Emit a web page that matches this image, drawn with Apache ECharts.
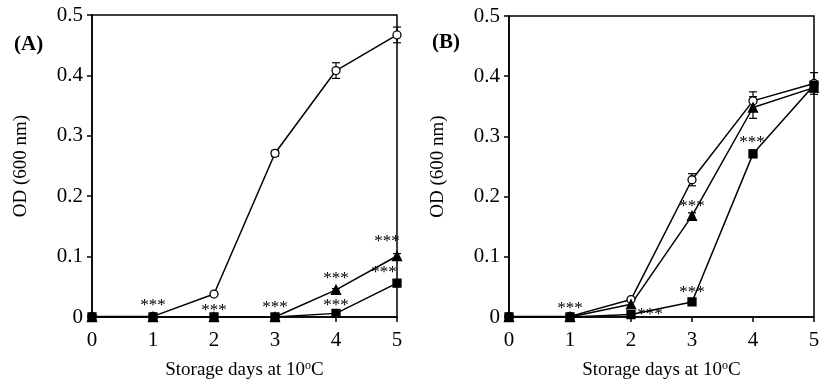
<!DOCTYPE html>
<html><head><meta charset="utf-8">
<script src="https://cdn.jsdelivr.net/npm/echarts@6/dist/echarts.min.js"></script>
<style>html,body{margin:0;padding:0;background:#fff}#c{width:827px;height:386px}</style>
</head><body><div id="c"></div>
<script>
var days = [0, 1, 2, 3, 4, 5];
var yTicks = [0, 0.1, 0.2, 0.3, 0.4, 0.5];

// Panel A
var aCircle = [0.001, 0.001, 0.038, 0.271, 0.408, 0.467];
var aCircleErr = [0, 0, 0, 0.005, 0.013, 0.013];
var aTriangle = [0, 0, 0, 0, 0.045, 0.101];
var aTriangleErr = [0, 0, 0, 0, 0.002, 0.004];
var aSquare = [0, 0, 0, 0, 0.006, 0.056];
var aSquareErr = [0, 0, 0, 0, 0.002, 0.003];

// Panel B
var bCircle = [0.001, 0.001, 0.029, 0.228, 0.359, 0.388];
var bCircleErr = [0, 0, 0, 0.010, 0.015, 0.018];
var bTriangle = [0, 0, 0.021, 0.168, 0.348, 0.381];
var bTriangleErr = [0, 0, 0, 0.005, 0.018, 0.006];
var bSquare = [0, 0, 0.004, 0.025, 0.271, 0.385];
var bSquareErr = [0, 0, 0, 0.002, 0.006, 0.004];

var starLabel = '***';
// significance marks: [day index] per series
var aTriangleStars = [1, 2, 3, 4, 5];
var aSquareStars = [4, 5];
var bTriangleStars = [1, 3];
var bSquareStars = [2, 3, 4];

// label offsets (styling)
var starOffsets = {
  aTriangle: {1: [0, -11], 2: [0, -6], 3: [0, -9], 4: [0, -11], 5: [-10, -14]},
  aSquare: {4: [0, -8], 5: [-13, -11]},
  bTriangle: {1: [0, -8], 3: [0, -9]},
  bSquare: {2: [19, 0], 3: [0, -9], 4: [-1, -11]}
};

var FONT = '"Liberation Serif", "Times New Roman", serif';

function pts(vals, stars, key) {
  return vals.map(function (v, i) {
    var item = {value: [days[i], v]};
    if (stars && stars.indexOf(i) >= 0) {
      var off = (starOffsets[key] && starOffsets[key][i]) || [0, 0];
      item.label = {show: true, formatter: starLabel, position: 'inside', offset: off,
        fontFamily: FONT, fontSize: 17, color: '#000'};
    }
    return item;
  });
}

function lineSeries(idx, vals, symbol, size, filled, stars, key) {
  return {
    type: 'line', xAxisIndex: idx, yAxisIndex: idx, data: pts(vals, stars, key),
    symbol: symbol, symbolSize: size, showAllSymbol: true, clip: false,
    lineStyle: {color: '#000', width: 1.5},
    itemStyle: {color: filled ? '#000' : '#fff', borderColor: '#000', borderWidth: 1.3},
    label: {show: false}, z: 3, animation: false
  };
}

function errSeries(idx, vals, errs) {
  return {
    type: 'custom', xAxisIndex: idx, yAxisIndex: idx, z: 2, animation: false,
    data: vals.map(function (v, i) { return [days[i], v, errs[i]]; }),
    renderItem: function (params, api) {
      var x = api.value(0), y = api.value(1), e = api.value(2);
      if (!e) return null;
      var top = api.coord([x, y + e]), bot = api.coord([x, y - e]);
      var w = 4;
      var st = {stroke: '#000', lineWidth: 1.2};
      return {type: 'group', children: [
        {type: 'line', shape: {x1: top[0], y1: top[1], x2: bot[0], y2: bot[1]}, style: st},
        {type: 'line', shape: {x1: top[0] - w, y1: top[1], x2: top[0] + w, y2: top[1]}, style: st},
        {type: 'line', shape: {x1: bot[0] - w, y1: bot[1], x2: bot[0] + w, y2: bot[1]}, style: st}
      ]};
    }
  };
}

function xAxis(idx) {
  return {
    type: 'value', gridIndex: idx, min: 0, max: 5, interval: 1,
    name: 'Storage days at 10{sup|o}C', nameLocation: 'middle', nameGap: 43,
    nameTextStyle: {fontFamily: FONT, fontSize: 19, color: '#000', lineHeight: 20,
      rich: {sup: {fontFamily: FONT, fontSize: 12, color: '#000', verticalAlign: 'top', lineHeight: 20}}},
    axisLine: {show: true, onZero: false, lineStyle: {color: '#000', width: 1.5}},
    axisTick: {show: true, inside: false, length: 5, lineStyle: {color: '#000', width: 1.5}},
    axisLabel: {fontFamily: FONT, fontSize: 21, color: '#000', margin: 13},
    splitLine: {show: false}
  };
}
function yAxis(idx) {
  return {
    type: 'value', gridIndex: idx, min: 0, max: 0.5, interval: 0.1,
    name: 'OD (600 nm)', nameLocation: 'middle', nameGap: 61,
    nameTextStyle: {fontFamily: FONT, fontSize: 19, color: '#000'},
    axisLine: {show: true, onZero: false, lineStyle: {color: '#000', width: 1.5}},
    axisTick: {show: true, inside: false, length: 5, lineStyle: {color: '#000', width: 1.5}},
    axisLabel: {fontFamily: FONT, fontSize: 21, color: '#000', margin: 9,
      formatter: function (v) { return String(+v.toFixed(1)); }},
    splitLine: {show: false}
  };
}

var chart = echarts.init(document.getElementById('c'), null, {renderer: 'canvas'});
chart.setOption({
  backgroundColor: '#fff',
  animation: false,
  title: [
    {text: '(A)', left: 14, top: 34, padding: 0, textStyle: {fontFamily: FONT, fontSize: 21, fontWeight: 'bold', color: '#000'}},
    {text: '(B)', left: 432, top: 32, padding: 0, textStyle: {fontFamily: FONT, fontSize: 21, fontWeight: 'bold', color: '#000'}}
  ],
  grid: [
    {left: 92, top: 15, width: 305, height: 302, show: true, borderColor: '#000', borderWidth: 1.5, backgroundColor: 'transparent'},
    {left: 509, top: 16, width: 305, height: 301, show: true, borderColor: '#000', borderWidth: 1.5, backgroundColor: 'transparent'}
  ],
  xAxis: [xAxis(0), xAxis(1)],
  yAxis: [yAxis(0), yAxis(1)],
  series: [
    errSeries(0, aCircle, aCircleErr),
    errSeries(0, aTriangle, aTriangleErr),
    errSeries(0, aSquare, aSquareErr),
    lineSeries(0, aCircle, 'circle', 8, false, null, 'aCircle'),
    lineSeries(0, aSquare, 'rect', 8, true, aSquareStars, 'aSquare'),
    lineSeries(0, aTriangle, 'triangle', 9, true, aTriangleStars, 'aTriangle'),
    errSeries(1, bCircle, bCircleErr),
    errSeries(1, bTriangle, bTriangleErr),
    errSeries(1, bSquare, bSquareErr),
    lineSeries(1, bCircle, 'circle', 8, false, null, 'bCircle'),
    lineSeries(1, bSquare, 'rect', 8, true, bSquareStars, 'bSquare'),
    lineSeries(1, bTriangle, 'triangle', 9, true, bTriangleStars, 'bTriangle')
  ]
});
</script></body></html>
